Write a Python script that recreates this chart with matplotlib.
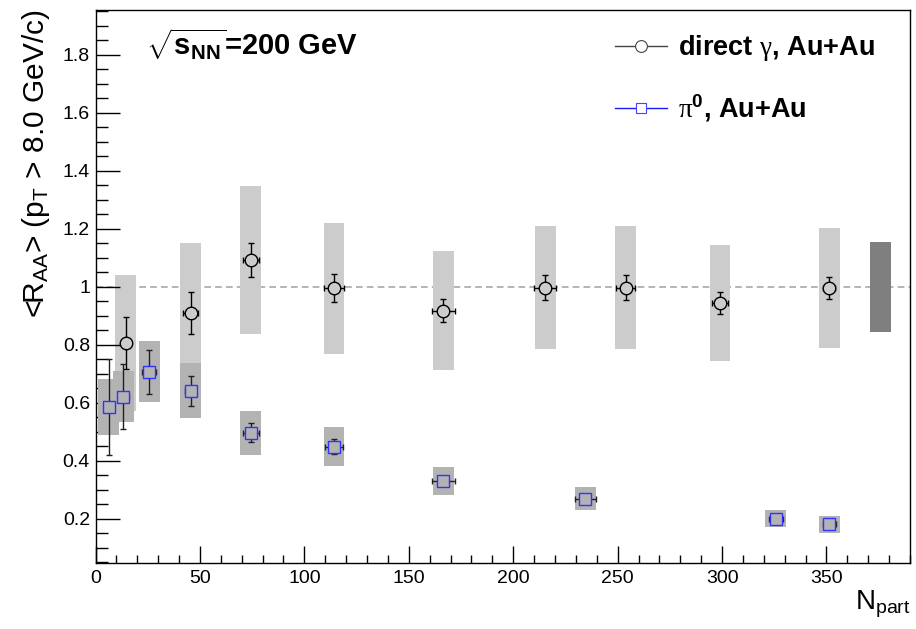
import matplotlib
matplotlib.use("Agg")
import matplotlib.pyplot as plt
from matplotlib.patches import Rectangle
from matplotlib.lines import Line2D
from matplotlib.ticker import MultipleLocator, FuncFormatter

plt.rcParams.update({
    "font.family": ["Liberation Sans", "DejaVu Sans"],
    "mathtext.fontset": "custom",
    "mathtext.rm": "Liberation Serif",
    "mathtext.bf": "Liberation Sans:bold",
    "mathtext.it": "Liberation Sans:italic",
    "mathtext.sf": "Liberation Sans",
})

# direct photon <R_AA>, Au+Au
gamma_npart = [14.5, 45.5, 74.4, 114.2, 166.6, 215.3, 253.9, 299.0, 351.4]
gamma_npart_err = [2.5, 3.4, 3.8, 4.6, 5.7, 5.1, 4.6, 3.8, 2.9]
gamma_raa = [0.807, 0.910, 1.093, 0.995, 0.918, 0.998, 0.998, 0.944, 0.995]
gamma_stat = [0.090, 0.072, 0.058, 0.048, 0.040, 0.044, 0.043, 0.038, 0.038]
gamma_syst = [0.234, 0.242, 0.254, 0.227, 0.205, 0.213, 0.211, 0.199, 0.207]

# pi0 <R_AA>, Au+Au
pi0_npart = [6.3, 13.4, 25.7, 45.5, 74.4, 114.2, 166.6, 234.6, 325.8, 351.4]
pi0_npart_err = [2.0, 2.6, 3.2, 2.8, 3.7, 4.4, 5.6, 5.0, 3.5, 3.0]
pi0_raa = [0.587, 0.622, 0.707, 0.642, 0.497, 0.449, 0.330, 0.270, 0.201, 0.182]
pi0_stat = [0.165, 0.112, 0.075, 0.051, 0.033, 0.025, 0.015, 0.012, 0.010, 0.010]
pi0_syst = [0.097, 0.089, 0.105, 0.094, 0.075, 0.067, 0.049, 0.040, 0.030, 0.029]

# global normalisation uncertainty
norm_npart = 375.9
norm_err = 0.154

gamma_box_color = "#cccccc"
pi0_box_color = "#b3b3b3"
norm_box_color = "#7f7f7f"
box_half = 5.0

W, H = 916, 629
fig = plt.figure(figsize=(W / 100, H / 100), dpi=100)
ax = fig.add_axes([95.5 / W, (H - 563) / H, (910 - 95.5) / W, (563 - 10) / H])
ax.set_xlim(0, 390)
ax.set_ylim(0.048, 1.955)

ax.axhline(1.0, color="#a8a8a8", lw=1.2, ls=(0, (4, 2.5)), zorder=0.5)

for x, y, s in zip(gamma_npart, gamma_raa, gamma_syst):
    ax.add_patch(Rectangle((x - box_half, y - s), 2 * box_half, 2 * s,
                           fc=gamma_box_color, ec="none", zorder=1))
for x, y, s in zip(pi0_npart, pi0_raa, pi0_syst):
    ax.add_patch(Rectangle((x - box_half, y - s), 2 * box_half, 2 * s,
                           fc=pi0_box_color, ec="none", zorder=2))
ax.add_patch(Rectangle((norm_npart - box_half, 1.0 - norm_err), 2 * box_half,
                       2 * norm_err, fc=norm_box_color, ec="none", zorder=2))

ax.errorbar(gamma_npart, gamma_raa, yerr=gamma_stat, xerr=gamma_npart_err,
            fmt="o", ms=9, mfc=gamma_box_color, mec="black", mew=1.0,
            ecolor="black", elinewidth=1.0, capsize=2.2, capthick=1.0, zorder=4)
ax.errorbar(pi0_npart, pi0_raa, yerr=pi0_stat, xerr=pi0_npart_err,
            fmt="s", ms=8, mfc=pi0_box_color, mec="#3333ff", mew=1.0,
            ecolor="#202020", elinewidth=1.0, capsize=2.2, capthick=1.0, zorder=4)

# axes styling
for sp in ax.spines.values():
    sp.set_linewidth(1.0)
ax.xaxis.set_major_locator(MultipleLocator(50))
ax.xaxis.set_minor_locator(MultipleLocator(10))
ax.yaxis.set_major_locator(MultipleLocator(0.2))
ax.yaxis.set_minor_locator(MultipleLocator(0.05))
ax.yaxis.set_major_formatter(FuncFormatter(lambda v, p: f"{v:g}"))
ax.tick_params(axis="both", which="both", direction="in", top=False, right=False,
               labelsize=14, width=1.0)
ax.tick_params(axis="y", which="major", length=17.3, pad=4)
ax.tick_params(axis="y", which="minor", length=8.6)
ax.tick_params(axis="x", which="major", length=12.2, pad=5)
ax.tick_params(axis="x", which="minor", length=6.1)

# legend
h_gamma = Line2D([], [], color="#444444", lw=1, marker="o", ms=8.5,
                 mfc="white", mec="#444444", mew=0.8)
h_pi0 = Line2D([], [], color="#1a1aff", lw=1, marker="s", ms=6.5,
               mfc="white", mec="#4444ff", mew=0.8)
ax.legend([h_gamma, h_pi0],
          [r"direct $\mathrm{\gamma}$, Au+Au", r"$\mathrm{\pi}^{\mathbf{0}}$, Au+Au"],
          loc="upper left", bbox_to_anchor=(615 / W, (H - 33) / H),
          bbox_transform=fig.transFigure, frameon=False,
          prop={"weight": "bold", "size": 19.5}, handlelength=1.93,
          handletextpad=0.4, labelspacing=1.08, borderpad=0, borderaxespad=0)

fig.text(146 / W, (H - 55) / H, r"$\sqrt{\mathbf{s}_{\mathbf{NN}}}$=200 GeV",
         fontsize=21, fontweight="bold", ha="left", va="baseline")

fig.text(911 / W, (H - 610) / H, r"N$\mathregular{_{part}}$", fontsize=20,
         ha="right", va="baseline")
fig.text(36 / W, (H - 164) / H,
         r"<R$\mathregular{_{AA}}$> (p$\mathregular{_{T}}$ > 8.0 GeV/c)",
         fontsize=21.5, rotation=90, ha="center", va="center")

fig.savefig("out.png", dpi=100)
